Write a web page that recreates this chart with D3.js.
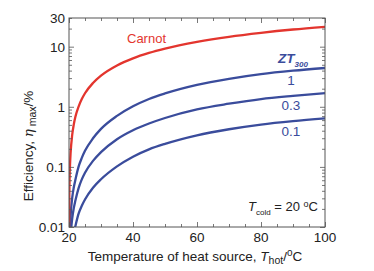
<!DOCTYPE html>
<html>
<head>
<meta charset="utf-8">
<script src="https://d3js.org/d3.v7.min.js"></script>
<style>
  body { margin: 0; background: #fff; }
  svg { font-family: "Liberation Sans", Arial, sans-serif; }
</style>
</head>
<body>
<svg id="chart" width="374" height="271"></svg>
<script>
// Values (efficiency in %, temperature of heat source in °C)
const temps   = [20.02, 20.1, 20.2, 20.35, 20.5, 21, 21.5, 22, 23, 24, 25, 27.5, 30, 35, 40, 45, 50, 60, 70, 80, 90, 100];
const carnot  = [0.0068, 0.034, 0.068, 0.119, 0.17, 0.34, 0.509, 0.68, 1.01, 1.346, 1.68, 2.49, 3.3, 4.87, 6.39, 7.86, 9.28, 12.0, 14.6, 17.0, 19.3, 21.4];
const zt1     = [0.0006, 0.0031, 0.0061, 0.0107, 0.0153, 0.0306, 0.0458, 0.0612, 0.101, 0.141, 0.185, 0.299, 0.429, 0.706, 1.02, 1.35, 1.67, 2.32, 2.92, 3.49, 3.98, 4.42];
const zt03    = [0.00027, 0.0014, 0.0027, 0.0048, 0.0069, 0.0138, 0.0206, 0.0275, 0.0444, 0.062, 0.08, 0.126, 0.176, 0.289, 0.408, 0.527, 0.651, 0.905, 1.124, 1.344, 1.52, 1.69];
const zt01    = [0.00011, 0.00057, 0.00113, 0.00198, 0.00283, 0.0055, 0.008, 0.0104, 0.0167, 0.0226, 0.0287, 0.0449, 0.0622, 0.102, 0.148, 0.196, 0.242, 0.336, 0.423, 0.506, 0.577, 0.641];

const xTicks = [20, 40, 60, 80, 100];
const yTicks = [0.01, 0.1, 1, 10, 30];
const seriesLabels = ["1", "0.3", "0.1"];

const svg = d3.select("#chart");
const margin = { left: 69, right: 49, top: 18, bottom: 44 };
const W = 374, H = 271;
const x0 = margin.left, x1 = W - margin.right, y0 = H - margin.bottom, y1 = margin.top;

const x = d3.scaleLinear().domain([20, 100]).range([x0, x1]);
const y = d3.scaleLog().domain([0.01, 30]).range([y0, y1]);

const red = "#e3352e", blue = "#3a4c9c", axisCol = "#555";

svg.append("clipPath").attr("id", "clip")
  .append("rect").attr("x", x0).attr("y", y1).attr("width", x1 - x0).attr("height", y0 - y1);

// curves
const line = d3.line().x(d => x(d[0])).y(d => y(d[1])).curve(d3.curveMonotoneX);
const plot = svg.append("g").attr("clip-path", "url(#clip)");
[[zt01, blue], [zt03, blue], [zt1, blue], [carnot, red]].forEach(([vals, col]) => {
  plot.append("path")
    .datum(temps.map((t, i) => [t, vals[i]]))
    .attr("fill", "none")
    .attr("stroke", col)
    .attr("stroke-width", 2.3)
    .attr("d", line);
});

// minor tick values
const xMinor = d3.range(20, 101, 5).filter(v => v % 20 !== 0);
const yMinor = [];
[0.01, 0.1, 1, 10].forEach(d => { for (let k = 2; k <= 9; k++) if (d * k <= 30) yMinor.push(d * k); });

// axes with inside ticks (mirrored on top/right)
function tickAxis(axis, vals, len) {
  return axis.tickValues(vals).tickSize(len).tickFormat("");
}
const gB = svg.append("g").attr("transform", `translate(0,${y0})`);
gB.call(tickAxis(d3.axisTop(x), xTicks, 5));
gB.append("g").call(tickAxis(d3.axisTop(x), xMinor, 3));
const gT = svg.append("g").attr("transform", `translate(0,${y1})`);
gT.call(tickAxis(d3.axisBottom(x), xTicks, 5));
gT.append("g").call(tickAxis(d3.axisBottom(x), xMinor, 3));
const gL = svg.append("g").attr("transform", `translate(${x0},0)`);
gL.call(tickAxis(d3.axisRight(y), [0.01, 0.1, 1, 10], 5));
gL.append("g").call(tickAxis(d3.axisRight(y), yMinor, 3));
const gR = svg.append("g").attr("transform", `translate(${x1},0)`);
gR.call(tickAxis(d3.axisLeft(y), [0.01, 0.1, 1, 10], 5));
gR.append("g").call(tickAxis(d3.axisLeft(y), yMinor, 3));
svg.selectAll(".domain").remove();
svg.selectAll(".tick line").attr("stroke", axisCol).attr("stroke-width", 0.8);

svg.append("rect").attr("x", x0).attr("y", y1).attr("width", x1 - x0).attr("height", y0 - y1)
  .attr("fill", "none").attr("stroke", axisCol).attr("stroke-width", 1);

// tick labels
svg.append("g").selectAll("text").data(xTicks).join("text")
  .attr("x", d => x(d)).attr("y", y0 + 15)
  .attr("text-anchor", "middle").attr("font-size", 13.5).attr("fill", "#222")
  .text(d => d);
svg.append("g").selectAll("text").data(yTicks).join("text")
  .attr("x", x0 - 4).attr("y", d => y(d) + 5)
  .attr("text-anchor", "end").attr("font-size", 13.5).attr("fill", "#222")
  .text(d => d);

// axis titles
const xt = svg.append("text").attr("x", (x0 + x1) / 2 - 2).attr("y", H - 10)
  .attr("text-anchor", "middle").attr("font-size", 13.5).attr("fill", "#222");
xt.append("tspan").text("Temperature of heat source, ");
xt.append("tspan").attr("font-style", "italic").text("T");
xt.append("tspan").attr("font-size", 10.5).attr("dy", 3).text("hot");
xt.append("tspan").attr("dy", -3).text("/");
xt.append("tspan").attr("font-size", 10).attr("dy", -5).text("o");
xt.append("tspan").attr("dy", 5).text("C");

const yt = svg.append("text").attr("transform", "translate(33,146) rotate(-90)")
  .attr("text-anchor", "middle").attr("font-size", 13.5).attr("fill", "#222");
yt.append("tspan").text("Efficiency, ");
yt.append("tspan").attr("font-style", "italic").attr("font-family", "DejaVu Serif").text("η");
yt.append("tspan").attr("font-size", 10.5).attr("dy", 3).text(" max");
yt.append("tspan").attr("dy", -3).text("/%");

// curve labels
svg.append("text").attr("x", 127).attr("y", 43).attr("font-size", 13).attr("fill", red).text("Carnot");
const zl = svg.append("text").attr("x", 278).attr("y", 63).attr("font-size", 13.5)
  .attr("font-weight", "bold").attr("font-style", "italic").attr("fill", blue);
zl.append("tspan").text("ZT");
zl.append("tspan").attr("font-size", 8).attr("dy", 4).text("300");
svg.append("g").selectAll("text").data(seriesLabels).join("text")
  .attr("x", 291).attr("y", (d, i) => [85, 110, 136][i])
  .attr("text-anchor", "middle").attr("font-size", 13.5).attr("fill", blue)
  .text(d => d);

const tc = svg.append("text").attr("x", 248).attr("y", 211).attr("font-size", 13).attr("fill", "#222");
tc.append("tspan").attr("font-style", "italic").text("T");
tc.append("tspan").attr("font-size", 8).attr("dy", 4).text("cold");
tc.append("tspan").attr("dy", -4).text(" = 20 ");
tc.append("tspan").attr("font-size", 9).attr("dy", -4).text("o");
tc.append("tspan").attr("dy", 4).text("C");
</script>
</body>
</html>
